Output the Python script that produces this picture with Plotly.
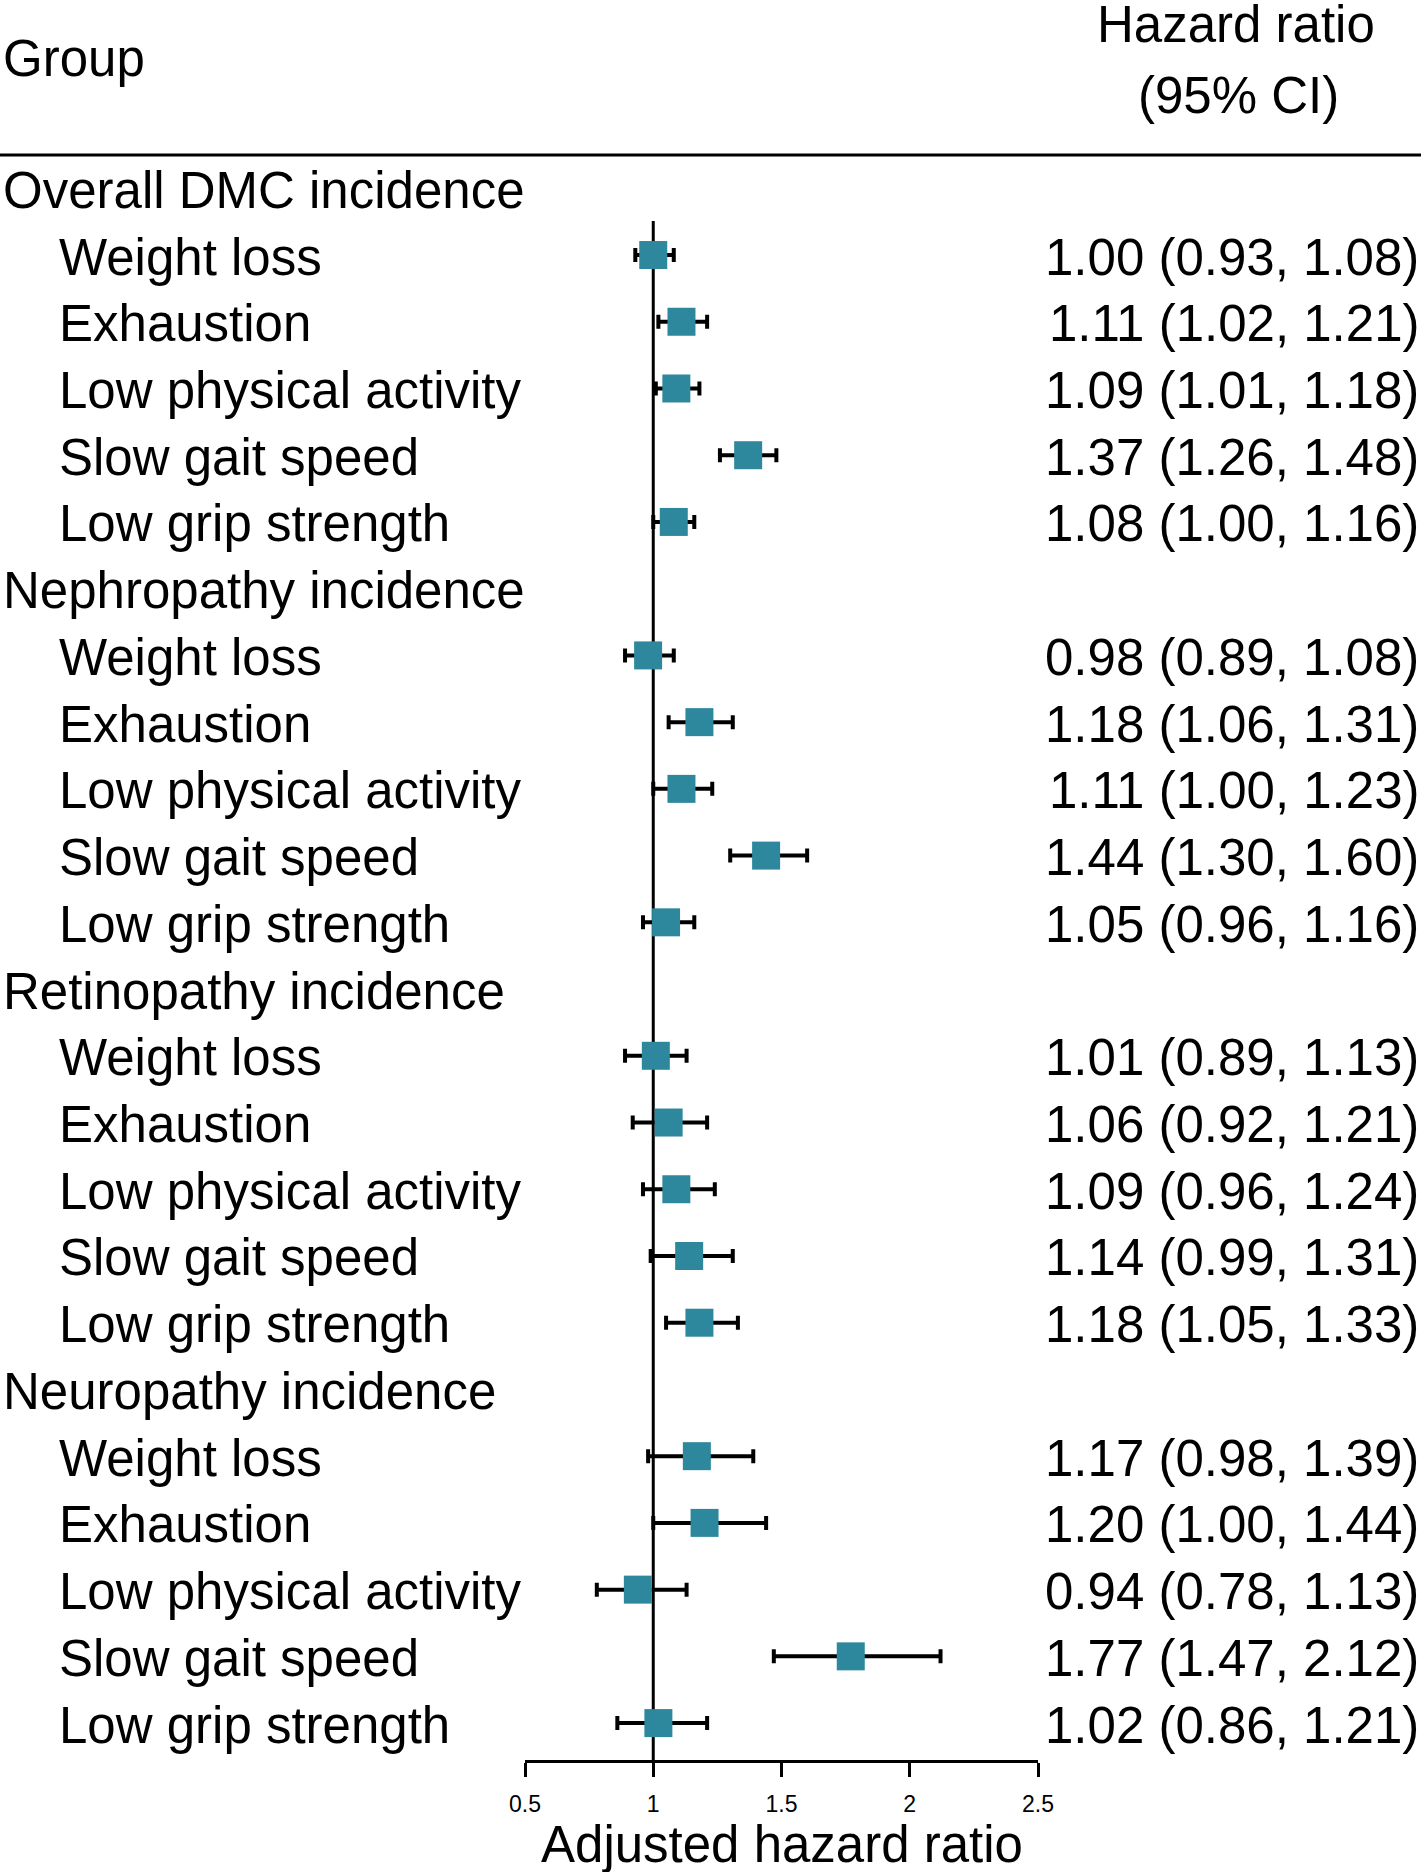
import plotly.graph_objects as go

groups = ["Overall DMC incidence", "Nephropathy incidence",
          "Retinopathy incidence", "Neuropathy incidence"]
items = ["Weight loss", "Exhaustion", "Low physical activity",
         "Slow gait speed", "Low grip strength"]
hr = [[1.00, 1.11, 1.09, 1.37, 1.08],
      [0.98, 1.18, 1.11, 1.44, 1.05],
      [1.01, 1.06, 1.09, 1.14, 1.18],
      [1.17, 1.20, 0.94, 1.77, 1.02]]
lo = [[0.93, 1.02, 1.01, 1.26, 1.00],
      [0.89, 1.06, 1.00, 1.30, 0.96],
      [0.89, 0.92, 0.96, 0.99, 1.05],
      [0.98, 1.00, 0.78, 1.47, 0.86]]
hi = [[1.08, 1.21, 1.18, 1.48, 1.16],
      [1.08, 1.31, 1.23, 1.60, 1.16],
      [1.13, 1.21, 1.24, 1.31, 1.33],
      [1.39, 1.44, 1.13, 2.12, 1.21]]
xticks = [0.5, 1, 1.5, 2, 2.5]
xticklabels = ["0.5", "1", "1.5", "2", "2.5"]

W, H = 1421, 1872
PL, PR = 525, 1038          # plot area left/right px
PT, PB = 155, 1760          # plot area top/bottom px
ROW0, ROWH = 188.3, 66.73   # px centre of row 0, row pitch
FONT = "Liberation Sans, Arial, Helvetica, sans-serif"
TEAL = "#2E889D"
FS = 51

def row_px(r):
    return ROW0 + ROWH * r

def px2r(py):
    return (py - ROW0) / ROWH

def paper_x(px):
    return (px - PL) / (PR - PL)

def paper_y(py):
    return (PB - py) / (PB - PT)

ys, xs, ep, em = [], [], [], []
annotations = []
r = 0
for g, name in enumerate(groups):
    annotations.append(dict(x=paper_x(1), y=paper_y(row_px(r) + 2), text=name,
                            xanchor="left", yanchor="middle"))
    r += 1
    for i, it in enumerate(items):
        ys.append(r)
        xs.append(hr[g][i])
        ep.append(hi[g][i] - hr[g][i])
        em.append(hr[g][i] - lo[g][i])
        annotations.append(dict(x=paper_x(57), y=paper_y(row_px(r) + 2), text=it,
                                xanchor="left", yanchor="middle"))
        annotations.append(dict(x=paper_x(1421), y=paper_y(row_px(r) + 2),
                                text=f"{hr[g][i]:.2f} ({lo[g][i]:.2f}, {hi[g][i]:.2f})",
                                xanchor="right", yanchor="middle"))
        r += 1

annotations += [
    dict(x=paper_x(1), y=paper_y(58), text="Group", xanchor="left", yanchor="middle"),
    dict(x=paper_x(1236), y=paper_y(24), text="Hazard ratio", xanchor="center", yanchor="middle"),
    dict(x=paper_x(1238), y=paper_y(95), text="(95% CI)", xanchor="center", yanchor="middle"),
    dict(x=0.5, y=paper_y(1845), text="Adjusted hazard ratio", xanchor="center", yanchor="middle"),
]
for a in annotations:
    a.update(xref="paper", yref="paper", showarrow=False,
             font=dict(family=FONT, size=FS, color="black"))

fig = go.Figure()
fig.add_trace(go.Scatter(
    x=xs, y=ys, mode="markers",
    marker=dict(symbol="square", size=28, color=TEAL, line=dict(width=0)),
    error_x=dict(type="data", symmetric=False, array=ep, arrayminus=em,
                 color="black", thickness=4, width=7),
    cliponaxis=False, showlegend=False, hoverinfo="skip"))

ytop, ybot = px2r(PT), px2r(PB)
fig.update_layout(
    width=W, height=H, paper_bgcolor="white", plot_bgcolor="white",
    margin=dict(l=PL, r=W - PR, t=PT, b=H - PB, pad=0),
    xaxis=dict(range=[0.5, 2.5], tickvals=xticks, ticktext=xticklabels,
               showgrid=False, zeroline=False, showline=True, linecolor="black",
               linewidth=3, ticks="outside", ticklen=14, tickwidth=3, tickcolor="black",
               ticklabelstandoff=7,
               tickfont=dict(family=FONT, size=23, color="black")),
    yaxis=dict(range=[ybot, ytop], visible=False, showgrid=False, zeroline=False),
    annotations=annotations,
    shapes=[
        dict(type="line", xref="x", yref="y", x0=1, x1=1, y0=px2r(221), y1=ybot,
             line=dict(color="black", width=3), layer="below"),
        dict(type="line", xref="paper", yref="paper", x0=paper_x(0), x1=paper_x(W),
             y0=1, y1=1, line=dict(color="black", width=3)),
    ],
)
fig.write_html("out.html", config={"displayModeBar": False},
               post_script="document.body.style.margin='0';document.body.style.padding='0';")
